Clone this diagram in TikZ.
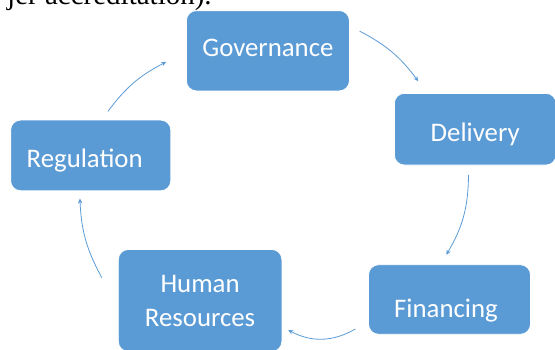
\documentclass[tikz,border=0pt]{standalone}
\usepackage{fontspec}
\setmainfont{Carlito}
\newfontfamily\serifcut{Liberation Serif}
\usetikzlibrary{arrows.meta}
\definecolor{sablue}{HTML}{5B9BD5}
\begin{document}
\begin{tikzpicture}[x=1pt,y=1pt,
  box/.style={draw=white, line width=0.8pt, fill=sablue, rounded corners=10pt,
    text=white, inner sep=0pt, font=\fontsize{26.8}{34}\selectfont},
  cyc/.style={draw=sablue, line width=0.8pt, -{Stealth[length=5pt,width=4.5pt]}}]
\useasboundingbox (0,0) rectangle (555,-349);
\node[anchor=base west, inner sep=0pt, font=\serifcut\fontsize{29}{32}\selectfont] (top) at (7,-4.5) {jer accreditation).};
\node[box, minimum width=163pt, minimum height=80.3pt, text height=11.7pt, text depth=0pt] (gov) at (267.9,-50.75) {Governance};
\node[box, minimum width=161.7pt, minimum height=71.7pt, text height=23.6pt, text depth=0pt] (del) at (475.2,-129.2) {Delivery};
\node[box, minimum width=160.2pt, minimum height=70.7pt, text height=24.8pt, text depth=0pt] (reg) at (90.7,-155.4) {Regulation\hspace*{12pt}};
\node[box, minimum width=163.6pt, minimum height=102pt, align=center] (hr) at (200.1,-300.5) {Human\\Resources};
\node[box, minimum width=161.9pt, minimum height=69.6pt, text height=36.6pt, text depth=0pt] (fin) at (449.5,-299.5) {Financing\hspace*{7pt}};
\coordinate (a1s) at (359.6,-31.1);
\coordinate (a1e) at (418.3,-81.3);
\coordinate (a2s) at (468.5,-174.8);
\coordinate (a2e) at (446.3,-254.8);
\coordinate (a3s) at (355.4,-329);
\coordinate (a3e) at (288.2,-330);
\coordinate (a4s) at (101.8,-277.7);
\coordinate (a4e) at (79.9,-198.5);
\coordinate (a5s) at (107.9,-111.4);
\coordinate (a5e) at (166.2,-61.9);
\draw[cyc] (a1s) to[bend left=13] (a1e);
\draw[cyc] (a2s) to[bend left=15] (a2e);
\draw[cyc] (a3s) to[bend left=29] (a3e);
\draw[cyc] (a4s) to[bend left=13] (a4e);
\draw[cyc] (a5s) to[bend left=13] (a5e);
\end{tikzpicture}
\end{document}
